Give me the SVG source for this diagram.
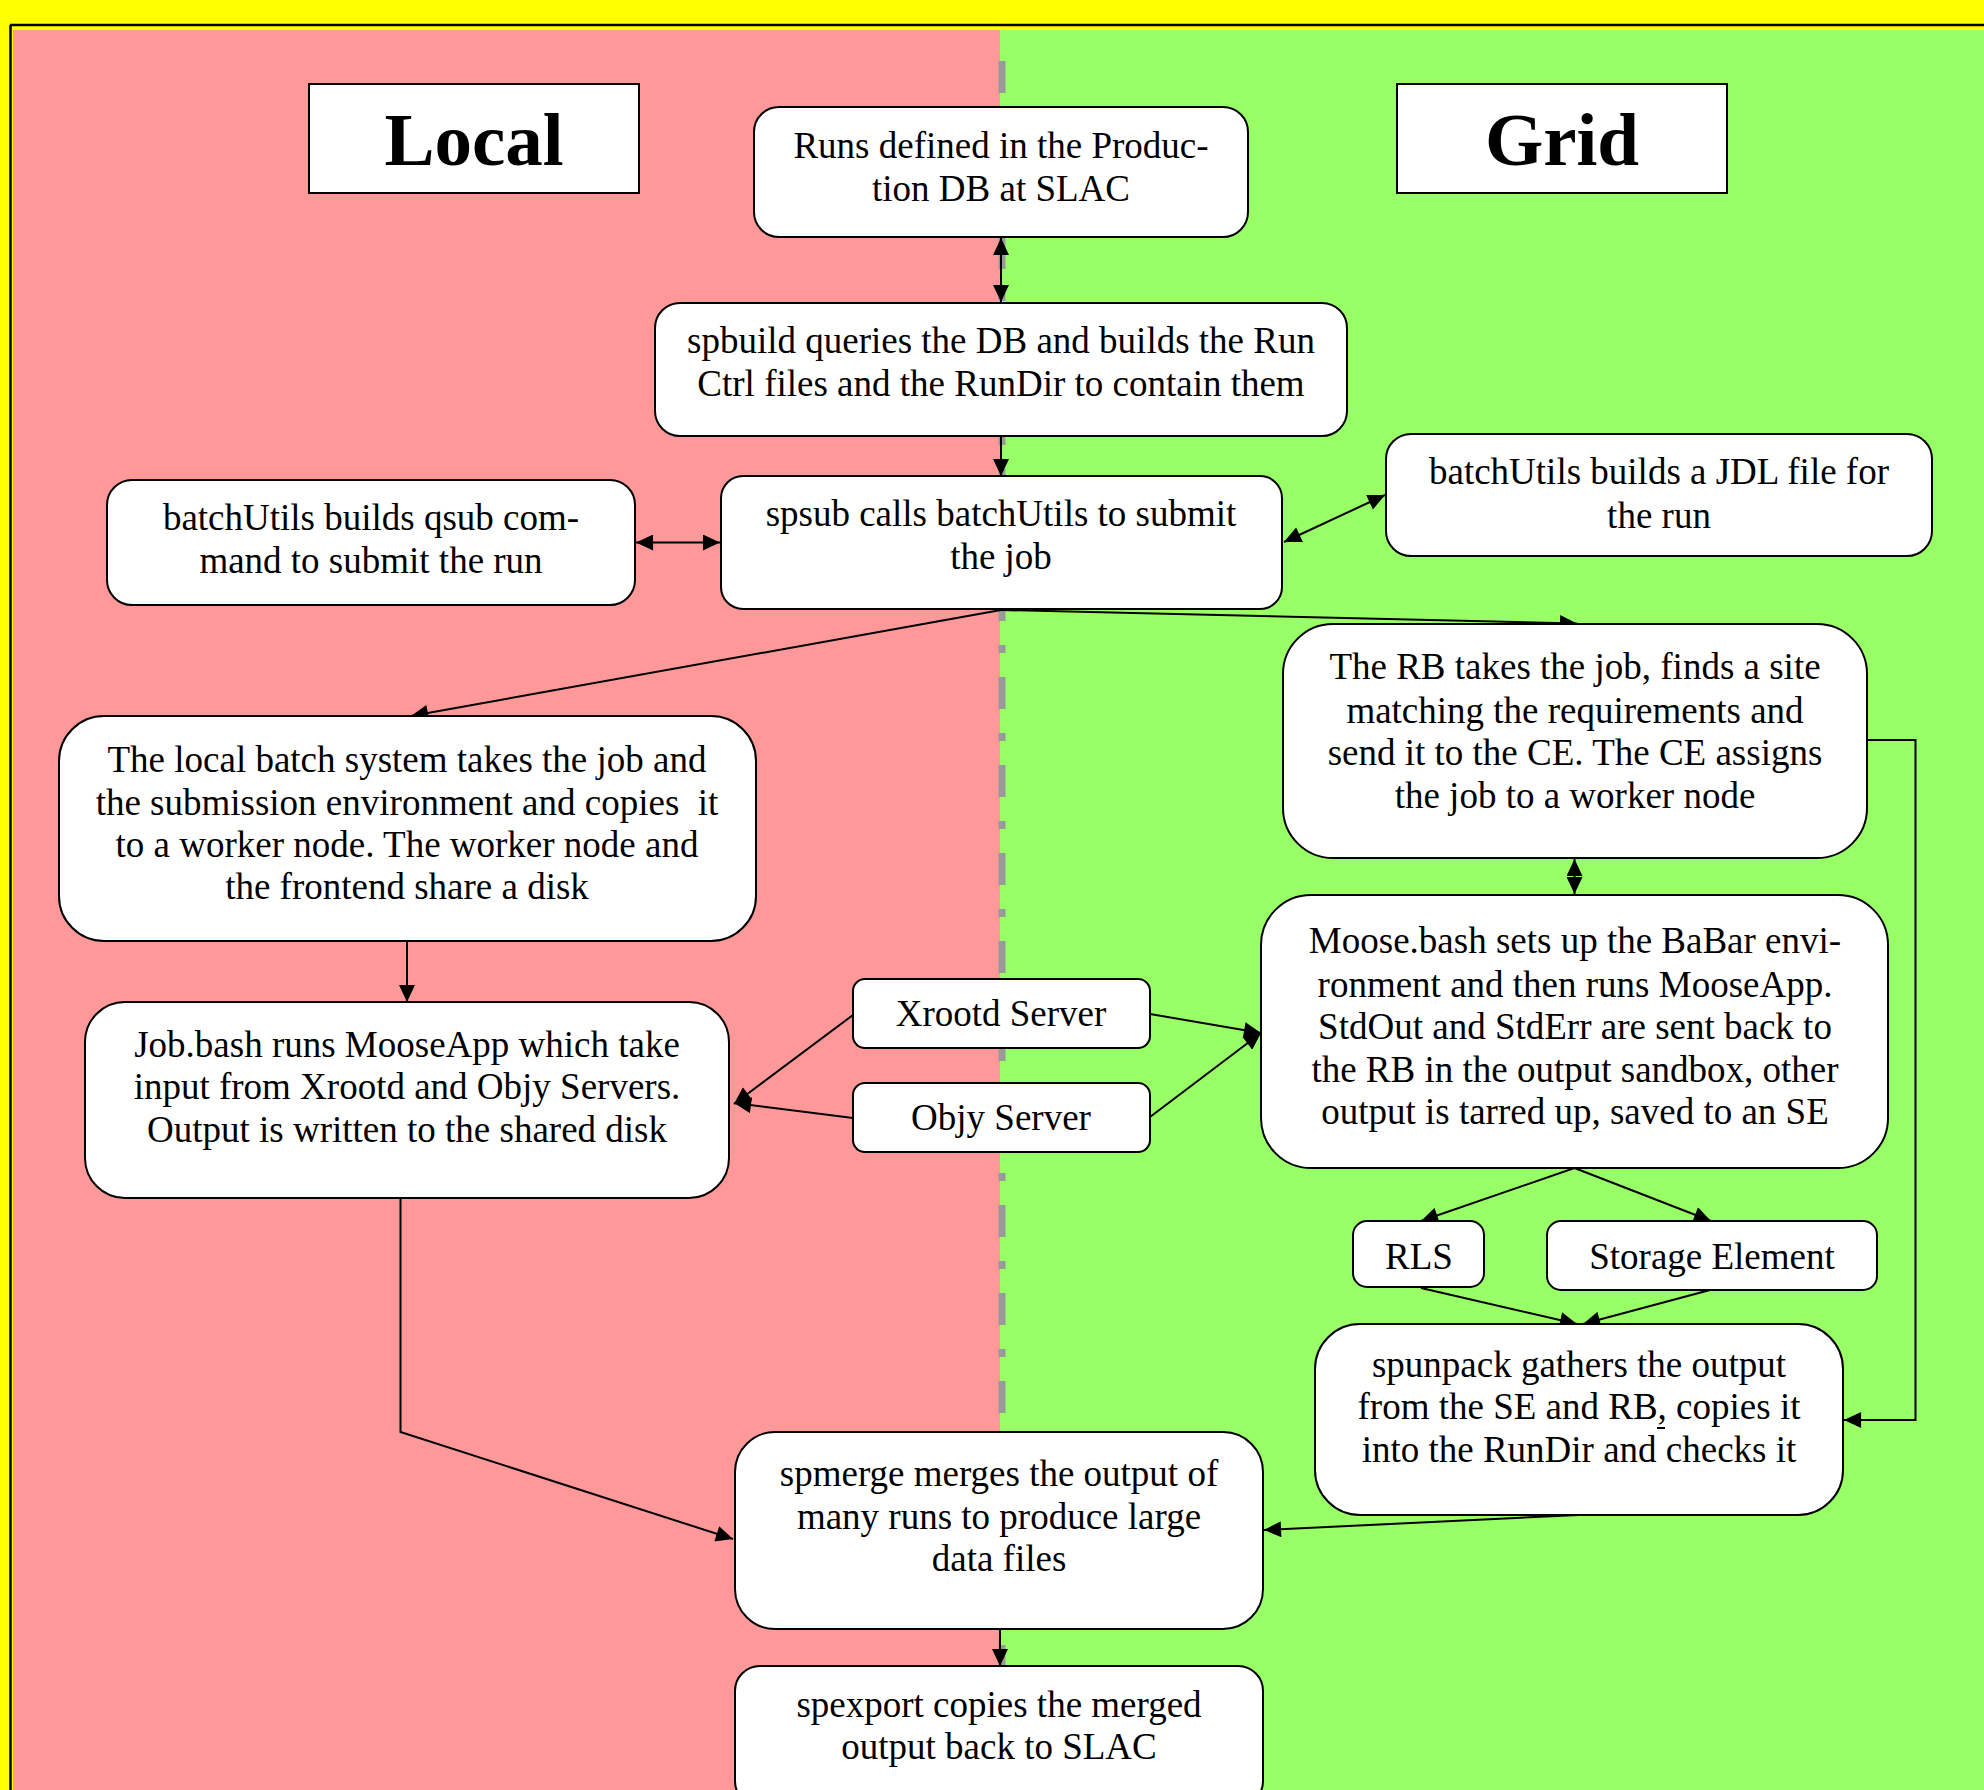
<svg xmlns="http://www.w3.org/2000/svg" width="1984" height="1790" viewBox="0 0 1984 1790">
<style>
.box{fill:#fff;stroke:#000;stroke-width:2}
.t{font-family:"Liberation Serif","Times New Roman",serif;font-size:37px;text-anchor:middle;fill:#000}
.title{font-family:"Liberation Serif","Times New Roman",serif;font-size:75px;font-weight:bold;text-anchor:middle;fill:#000}
.c{fill:none;stroke:#000;stroke-width:2}
.a{marker-end:url(#ah)}
.b{marker-start:url(#ah);marker-end:url(#ah)}
</style>
<defs>
<marker id="ah" markerUnits="userSpaceOnUse" markerWidth="18" markerHeight="16" refX="16" refY="7.5" orient="auto-start-reverse" viewBox="0 0 16 15">
<path d="M0,0 L16,7.5 L0,15 z" fill="#000"/>
</marker>
</defs>
<g id="background">
<rect x="0" y="0" width="1984" height="1790" fill="#ffff00"/>
<rect x="13" y="30" width="987" height="1760" fill="#ff9999"/>
<rect x="1000" y="30" width="984" height="1760" fill="#99ff66"/>
<line x1="10" y1="25" x2="1984" y2="25" stroke="#000" stroke-width="2.5"/>
<line x1="10.5" y1="25" x2="10.5" y2="1790" stroke="#000" stroke-width="2.5"/>
<line x1="1002" y1="61" x2="1002" y2="1790" stroke="#999999" stroke-width="7" stroke-dasharray="32 24 8 24"/>
</g>
<g id="connectors">
<line class="c b" x1="1001" y1="238" x2="1001" y2="302"/>
<line class="c a" x1="1001" y1="437" x2="1001" y2="476"/>
<line class="c b" x1="636" y1="542.5" x2="720" y2="542.5"/>
<line class="c b" x1="1284" y1="542" x2="1385" y2="495"/>
<line class="c a" x1="1001" y1="610" x2="411" y2="716"/>
<line class="c a" x1="1001" y1="610" x2="1577" y2="623.5"/>
<line class="c a" x1="407" y1="942" x2="407" y2="1002"/>
<line class="c a" x1="853" y1="1015" x2="734" y2="1104"/>
<line class="c a" x1="853" y1="1118" x2="734" y2="1103"/>
<line class="c a" x1="1150" y1="1014" x2="1261" y2="1033"/>
<line class="c a" x1="1150" y1="1117" x2="1261" y2="1033"/>
<line class="c b" x1="1574.5" y1="859" x2="1574.5" y2="894"/>
<line class="c a" x1="1574.5" y1="1168" x2="1421" y2="1221"/>
<line class="c a" x1="1574.5" y1="1168" x2="1711" y2="1221"/>
<line class="c a" x1="1421" y1="1288" x2="1577" y2="1324"/>
<line class="c a" x1="1710" y1="1290" x2="1583" y2="1324"/>
<polyline class="c a" points="1867,740 1915.5,740 1915.5,1420 1844,1420"/>
<polyline class="c a" points="400.5,1198 400.5,1432 733,1539"/>
<line class="c a" x1="1579" y1="1515" x2="1264" y2="1530"/>
<line class="c a" x1="1000" y1="1630" x2="1000" y2="1666"/>
</g>
<g id="local-title">
<rect x="309" y="84" width="330" height="109" fill="#fff" stroke="#000" stroke-width="2"/>
<text class="title" x="474" y="165">Local</text>
</g>
<g id="grid-title">
<rect x="1397" y="84" width="330" height="109" fill="#fff" stroke="#000" stroke-width="2"/>
<text class="title" x="1562" y="165">Grid</text>
</g>
<g id="runs">
<rect class="box" x="754" y="107" width="494" height="130" rx="25"/>
<text class="t" x="1001" y="158">Runs defined in the Produc-</text>
<text class="t" x="1001" y="201">tion DB at SLAC</text>
</g>
<g id="spbuild">
<rect class="box" x="655" y="303" width="692" height="133" rx="25"/>
<text class="t" x="1001" y="353">spbuild queries the DB and builds the Run</text>
<text class="t" x="1001" y="396">Ctrl files and the RunDir to contain them</text>
</g>
<g id="qsub">
<rect class="box" x="107" y="480" width="528" height="125" rx="25"/>
<text class="t" x="371" y="530">batchUtils builds qsub com-</text>
<text class="t" x="371" y="573">mand to submit the run</text>
</g>
<g id="spsub">
<rect class="box" x="721" y="476" width="561" height="133" rx="22"/>
<text class="t" x="1001" y="526">spsub calls batchUtils to submit</text>
<text class="t" x="1001" y="569">the job</text>
</g>
<g id="jdl">
<rect class="box" x="1386" y="434" width="546" height="122" rx="25"/>
<text class="t" x="1659" y="484">batchUtils builds a JDL file for</text>
<text class="t" x="1659" y="528">the run</text>
</g>
<g id="localbatch">
<rect class="box" x="59" y="716" width="697" height="225" rx="45"/>
<text class="t" x="407" y="772">The local batch system takes the job and</text>
<text class="t" x="407" y="815" xml:space="preserve">the submission environment and copies  it</text>
<text class="t" x="407" y="857">to a worker node. The worker node and</text>
<text class="t" x="407" y="899">the frontend share a disk</text>
</g>
<g id="jobbash">
<rect class="box" x="85" y="1002" width="644" height="196" rx="40"/>
<text class="t" x="407" y="1057">Job.bash runs MooseApp which take</text>
<text class="t" x="407" y="1099">input from Xrootd and Objy Servers.</text>
<text class="t" x="407" y="1142">Output is written to the shared disk</text>
</g>
<g id="xrootd">
<rect class="box" x="853" y="979" width="297" height="69" rx="12"/>
<text class="t" x="1001" y="1026">Xrootd Server</text>
</g>
<g id="objy">
<rect class="box" x="853" y="1083" width="297" height="69" rx="12"/>
<text class="t" x="1001" y="1130">Objy Server</text>
</g>
<g id="rb">
<rect class="box" x="1283" y="624" width="584" height="234" rx="50"/>
<text class="t" x="1575" y="679">The RB takes the job, finds a site</text>
<text class="t" x="1575" y="723">matching the requirements and</text>
<text class="t" x="1575" y="765">send it to the CE. The CE assigns</text>
<text class="t" x="1575" y="808">the job to a worker node</text>
</g>
<g id="moose">
<rect class="box" x="1261" y="895" width="627" height="273" rx="50"/>
<text class="t" x="1575" y="953">Moose.bash sets up the BaBar envi-</text>
<text class="t" x="1575" y="997">ronment and then runs MooseApp.</text>
<text class="t" x="1575" y="1039">StdOut and StdErr are sent back to</text>
<text class="t" x="1575" y="1082">the RB in the output sandbox, other</text>
<text class="t" x="1575" y="1124">output is tarred up, saved to an SE</text>
</g>
<g id="rls">
<rect class="box" x="1353" y="1221" width="131" height="66" rx="14"/>
<text class="t" x="1419" y="1269">RLS</text>
</g>
<g id="se">
<rect class="box" x="1547" y="1221" width="330" height="69" rx="14"/>
<text class="t" x="1712" y="1269">Storage Element</text>
</g>
<g id="spunpack">
<rect class="box" x="1315" y="1324" width="528" height="191" rx="45"/>
<text class="t" x="1579" y="1377">spunpack gathers the output</text>
<text class="t" x="1579" y="1419">from the SE and RB, copies it</text>
<line x1="1657" y1="1428" x2="1665" y2="1428" stroke="#000" stroke-width="2"/>
<text class="t" x="1579" y="1462">into the RunDir and checks it</text>
</g>
<g id="spmerge">
<rect class="box" x="735" y="1432" width="528" height="197" rx="40"/>
<text class="t" x="999" y="1486">spmerge merges the output of</text>
<text class="t" x="999" y="1529">many runs to produce large</text>
<text class="t" x="999" y="1571">data files</text>
</g>
<g id="spexport">
<rect class="box" x="735" y="1666" width="528" height="140" rx="25"/>
<text class="t" x="999" y="1717">spexport copies the merged</text>
<text class="t" x="999" y="1759">output back to SLAC</text>
</g>
</svg>
